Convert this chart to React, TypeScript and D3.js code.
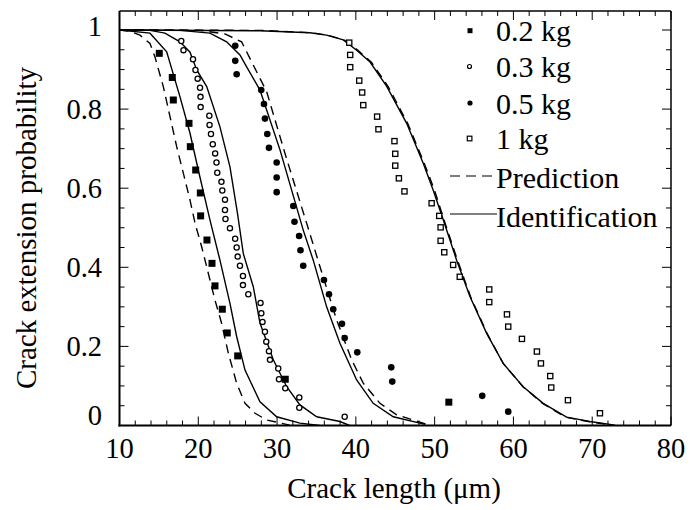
import * as d3 from 'd3'
import { useEffect, useRef } from 'react'

const W = 690
const H = 510
const left = 119.5
const right = 671
const top = 11
const bottom = 425.5

const xTicks = [10, 20, 30, 40, 50, 60, 70, 80]
const yTicks = [0, 0.2, 0.4, 0.6, 0.8, 1]
const yTickLabels = ['0', '0.2', '0.4', '0.6', '0.8', '1']

// measured points
const len02 = [15.05, 16.7, 16.83, 18.82, 18.99, 19.67, 20.26, 20.3, 21.1, 21.74, 22.12, 23.05, 23.68, 25.0, 31.04, 51.8]
const prob02 = [0.941, 0.88, 0.823, 0.764, 0.705, 0.646, 0.588, 0.53, 0.469, 0.41, 0.353, 0.294, 0.234, 0.176, 0.117, 0.059]

const len03 = [17.84, 18.12, 19.33, 19.64, 19.92, 20.22, 20.28, 20.3, 21.4, 21.43, 21.61, 21.84, 22.14, 22.31, 22.41, 22.94, 23.05, 23.39, 23.39, 23.45, 24.02, 24.68, 24.87, 25.0, 25.29, 25.67, 25.67, 26.35, 27.9, 28.0, 28.15, 28.46, 28.63, 28.97, 29.1, 30.15, 30.24, 31.04, 32.82, 32.82, 38.58]
const prob03 = [0.972, 0.949, 0.926, 0.899, 0.877, 0.854, 0.831, 0.805, 0.783, 0.76, 0.737, 0.711, 0.688, 0.665, 0.639, 0.616, 0.594, 0.571, 0.545, 0.522, 0.499, 0.472, 0.45, 0.427, 0.404, 0.378, 0.355, 0.332, 0.31, 0.284, 0.262, 0.237, 0.212, 0.188, 0.166, 0.144, 0.117, 0.094, 0.071, 0.045, 0.022]

const len05 = [24.69, 24.69, 24.87, 27.99, 28.34, 28.46, 28.76, 28.97, 29.95, 29.95, 29.95, 32.06, 32.21, 32.8, 32.97, 33.32, 35.95, 36.59, 37.13, 38.24, 38.58, 40.18, 44.49, 44.62, 56.04, 59.34]
const prob05 = [0.96, 0.922, 0.888, 0.848, 0.813, 0.776, 0.737, 0.702, 0.665, 0.627, 0.59, 0.555, 0.515, 0.479, 0.443, 0.404, 0.368, 0.332, 0.294, 0.257, 0.221, 0.185, 0.147, 0.111, 0.075, 0.035]

const len1 = [39.16, 39.28, 39.28, 40.43, 40.8, 40.94, 42.7, 42.87, 44.9, 45.0, 45.0, 45.46, 46.17, 49.62, 50.58, 50.76, 50.76, 51.22, 52.35, 53.19, 56.93, 56.93, 59.18, 59.34, 61.08, 62.98, 63.49, 64.67, 64.8, 66.92, 70.98]
const prob1 = [0.968, 0.937, 0.906, 0.872, 0.842, 0.81, 0.781, 0.749, 0.719, 0.687, 0.657, 0.625, 0.592, 0.562, 0.53, 0.501, 0.467, 0.438, 0.406, 0.376, 0.344, 0.312, 0.281, 0.25, 0.219, 0.187, 0.157, 0.125, 0.096, 0.064, 0.031]

// model curves [crack length, probability]
const pred02 = [[10, 1], [11.33, 0.997], [12.6, 0.987], [13.87, 0.966], [14.5, 0.932], [15.56, 0.857], [16.41, 0.781], [17.26, 0.705], [18.1, 0.638], [18.95, 0.57], [19.58, 0.512], [20.43, 0.452], [21.27, 0.385], [22.12, 0.317], [22.97, 0.258], [23.81, 0.183], [24.87, 0.107], [25.93, 0.056], [27.2, 0.031], [28.68, 0.014], [31.6, 0.001]]
const ident02 = [[10, 1], [13.87, 0.992], [15.99, 0.945], [17.68, 0.831], [18.95, 0.739], [20.0, 0.646], [21.48, 0.52], [22.75, 0.418], [24.02, 0.309], [24.87, 0.225], [25.93, 0.14], [27.83, 0.06], [29.95, 0.022], [32.9, 0.006], [35.4, 0]]
const ident03 = [[10, 1], [13.87, 0.999], [15.77, 0.992], [17.68, 0.97], [18.95, 0.944], [19.8, 0.899], [21.07, 0.857], [22.75, 0.755], [24.02, 0.654], [24.97, 0.537], [25.71, 0.435], [26.98, 0.351], [27.83, 0.259], [29.52, 0.166], [31.22, 0.098], [32.9, 0.052], [35.03, 0.022], [37.98, 0.01], [39.2, 0]]
const pred05 = [[10, 1], [20.2, 0.999], [23.39, 0.99], [25.5, 0.97], [28.68, 0.844], [31.0, 0.688], [33.76, 0.511], [35.44, 0.402], [37.56, 0.267], [39.47, 0.166], [40.94, 0.107], [43.06, 0.056], [45.18, 0.027], [49.0, 0.003]]
const ident05 = [[10, 1], [17.68, 0.999], [21.48, 0.992], [23.6, 0.97], [25.29, 0.937], [26.14, 0.907], [27.83, 0.848], [30.37, 0.697], [33.32, 0.494], [34.59, 0.418], [36.29, 0.3], [37.98, 0.208], [40.1, 0.115], [42.2, 0.056], [44.75, 0.022], [48.8, 0.003]]
const pred1 = [[10, 1], [28, 0.999], [34.5, 0.993], [36.6, 0.986], [38.6, 0.974], [40.3, 0.948], [42.0, 0.918], [44.1, 0.857], [46.6, 0.763], [48.7, 0.662], [50.0, 0.594], [51.2, 0.519], [52.9, 0.418], [54.55, 0.326], [56.65, 0.233], [58.7, 0.157], [61.2, 0.098], [63.7, 0.056], [66.6, 0.021], [69.5, 0.01], [72.5, 0.001]]
const ident1 = [[10, 1], [27.83, 0.998], [34.17, 0.993], [36.29, 0.987], [38.4, 0.975], [40.1, 0.949], [41.8, 0.919], [43.9, 0.858], [46.45, 0.764], [48.55, 0.663], [49.82, 0.595], [51.09, 0.52], [52.79, 0.418], [54.48, 0.326], [56.6, 0.233], [58.7, 0.157], [61.24, 0.098], [63.78, 0.056], [66.75, 0.021], [69.7, 0.01], [72.9, 0.001]]

const legendLabels = ['0.2 kg', '0.3 kg', '0.5 kg', '1 kg', 'Prediction', 'Identification']

const font = "'Liberation Serif', 'Times New Roman', serif"

export default function App() {
  const ref = useRef<SVGSVGElement>(null)

  useEffect(() => {
    const svg = d3.select(ref.current)
    svg.selectAll('*').remove()

    const x = d3.scaleLinear().domain([10, 80]).range([left, right])
    const y = d3.scaleLinear().domain([0, 1]).range([bottom, 30])

    svg.append('defs').append('clipPath').attr('id', 'plot')
      .append('rect').attr('x', left).attr('y', top).attr('width', right - left).attr('height', bottom - top)

    const g = svg.append('g')

    // ticks, all pointing inward
    const xMinor = d3.range(10, 80.1, 2)
    xMinor.forEach((v) => {
      const major = v % 10 === 0
      const len = major ? 9 : 5
      g.append('line').attr('x1', x(v)).attr('x2', x(v)).attr('y1', bottom).attr('y2', bottom - len)
        .attr('stroke', 'black').attr('stroke-width', 1)
      g.append('line').attr('x1', x(v)).attr('x2', x(v)).attr('y1', top).attr('y2', top + len)
        .attr('stroke', 'black').attr('stroke-width', 1)
    })
    const yMinor = d3.range(0, 1.0001, 0.05)
    yMinor.forEach((v, i) => {
      const major = i % 4 === 0
      const len = major ? 9 : 5
      g.append('line').attr('x1', left).attr('x2', left + len).attr('y1', y(v)).attr('y2', y(v))
        .attr('stroke', 'black').attr('stroke-width', 1)
      g.append('line').attr('x1', right).attr('x2', right - len).attr('y1', y(v)).attr('y2', y(v))
        .attr('stroke', 'black').attr('stroke-width', 1)
    })

    // frame
    g.append('line').attr('x1', left).attr('x2', right).attr('y1', top).attr('y2', top).attr('stroke', 'black').attr('stroke-width', 1.5)
    g.append('line').attr('x1', right).attr('x2', right).attr('y1', top).attr('y2', bottom).attr('stroke', 'black').attr('stroke-width', 1.5)
    g.append('line').attr('x1', left).attr('x2', left).attr('y1', top).attr('y2', bottom + 1).attr('stroke', 'black').attr('stroke-width', 2)
    g.append('line').attr('x1', left - 1).attr('x2', right).attr('y1', bottom).attr('y2', bottom).attr('stroke', 'black').attr('stroke-width', 2)

    // tick labels
    g.selectAll('.xl').data(xTicks).enter().append('text')
      .attr('x', (d) => x(d)).attr('y', 458).attr('text-anchor', 'middle')
      .attr('font-family', font).attr('font-size', 28.5).text((d) => d)
    g.selectAll('.yl').data(yTicks).enter().append('text')
      .attr('x', 102).attr('y', (d) => y(d) + 9.5 - (d === 0 ? 10 : d === 1 ? 4 : 0))
      .attr('text-anchor', 'end')
      .attr('font-family', font).attr('font-size', 28.5).text((d, i) => yTickLabels[i])

    // axis titles
    svg.append('text').attr('x', 394).attr('y', 498).attr('text-anchor', 'middle')
      .attr('font-family', font).attr('font-size', 29).text('Crack length (\u03bcm)')
    svg.append('text').attr('transform', 'translate(36,228) rotate(-90)').attr('text-anchor', 'middle')
      .attr('font-family', font).attr('font-size', 29).text('Crack extension probability')

    // curves
    const line = d3.line<number[]>().x((d) => x(d[0])).y((d) => y(d[1]))
    const plot = svg.append('g').attr('clip-path', 'url(#plot)')
    ;[ident02, ident03, ident05, ident1].forEach((c) => {
      plot.append('path').attr('d', line(c)).attr('fill', 'none').attr('stroke', 'black').attr('stroke-width', 1.4)
    })
    ;[pred02, pred05, pred1].forEach((c) => {
      plot.append('path').attr('d', line(c)).attr('fill', 'none').attr('stroke', 'black').attr('stroke-width', 1.4)
        .attr('stroke-dasharray', '9,6')
    })

    // markers
    const pts = (xs: number[], ys: number[]) => xs.map((v, i) => [v, ys[i]])
    plot.selectAll('.s02').data(pts(len02, prob02)).enter().append('rect')
      .attr('x', (d) => x(d[0]) - 3.5).attr('y', (d) => y(d[1]) - 3.5).attr('width', 7).attr('height', 7).attr('fill', 'black')
    plot.selectAll('.s03').data(pts(len03, prob03)).enter().append('circle')
      .attr('cx', (d) => x(d[0])).attr('cy', (d) => y(d[1])).attr('r', 2.6).attr('fill', 'white').attr('stroke', 'black').attr('stroke-width', 1.3)
    plot.selectAll('.s05').data(pts(len05, prob05)).enter().append('circle')
      .attr('cx', (d) => x(d[0])).attr('cy', (d) => y(d[1])).attr('r', 3.3).attr('fill', 'black')
    plot.selectAll('.s1').data(pts(len1, prob1)).enter().append('rect')
      .attr('x', (d) => x(d[0]) - 2.6).attr('y', (d) => y(d[1]) - 2.6).attr('width', 5.2).attr('height', 5.2)
      .attr('fill', 'white').attr('stroke', 'black').attr('stroke-width', 1.3)

    // legend
    const rowY = [30.7, 66.5, 103, 138.5, 176, 214]
    const baseY = [40.7, 76.5, 114, 148.5, 188.3, 226.7]
    const lg = svg.append('g')
    lg.append('rect').attr('x', 467.5).attr('y', rowY[0] - 2.5).attr('width', 5).attr('height', 5).attr('fill', 'black')
    lg.append('circle').attr('cx', 469.5).attr('cy', rowY[1]).attr('r', 2).attr('fill', 'white').attr('stroke', 'black').attr('stroke-width', 1.2)
    lg.append('circle').attr('cx', 470).attr('cy', rowY[2]).attr('r', 2.6).attr('fill', 'black')
    lg.append('rect').attr('x', 467.3).attr('y', rowY[3] - 2.3).attr('width', 4.6).attr('height', 4.6)
      .attr('fill', 'white').attr('stroke', 'black').attr('stroke-width', 1.2)
    lg.append('line').attr('x1', 450).attr('x2', 497).attr('y1', rowY[4]).attr('y2', rowY[4])
      .attr('stroke', 'black').attr('stroke-width', 1.2).attr('stroke-dasharray', '10,6')
    lg.append('line').attr('x1', 450).attr('x2', 497).attr('y1', rowY[5]).attr('y2', rowY[5])
      .attr('stroke', 'black').attr('stroke-width', 1.2)
    lg.selectAll('.lt').data(legendLabels).enter().append('text')
      .attr('x', 496).attr('y', (d, i) => baseY[i])
      .attr('font-family', font).attr('font-size', 30).text((d) => d)
  }, [])

  return (
    <svg ref={ref} width={W} height={H} style={{ position: 'absolute', left: 0, top: 0, background: 'white' }} />
  )
}
